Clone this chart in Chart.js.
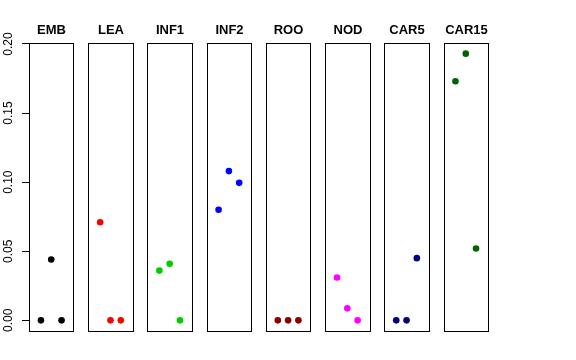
<!DOCTYPE html>
<html>
<head>
<meta charset="utf-8">
<script src="https://cdn.jsdelivr.net/npm/chart.js@4.4.0/dist/chart.umd.min.js"></script>
<style>
  body { margin: 0; background: #fff; }
  canvas { display: block; }
</style>
</head>
<body>
<canvas id="panels_chart" width="576" height="360"></canvas>
<script>
// panels, colours and the three values in each panel (x = 1, 2, 3)
const panelNames = ['EMB', 'LEA', 'INF1', 'INF2', 'ROO', 'NOD', 'CAR5', 'CAR15'];
const panelColors = ['#000000', '#FF0000', '#00CD00', '#0000FF', '#8B0000', '#FF00FF', '#000080', '#006400'];
const embValues = [0, 0.044, 0];
const leaValues = [0.071, 0, 0];
const inf1Values = [0.036, 0.041, 0];
const inf2Values = [0.080, 0.108, 0.0995];
const rooValues = [0, 0, 0];
const nodValues = [0.031, 0.0087, 0];
const car5Values = [0, 0, 0.045];
const car15Values = [0.173, 0.193, 0.052];
const yTicks = [0, 0.05, 0.10, 0.15, 0.20];

const panelValues = [embValues, leaValues, inf1Values, inf2Values, rooValues, nodValues, car5Values, car15Values];

// each panel is x in [0, 4] stretched by 4% like R, panels placed side by side
const step = 5.75;
const pad = 0.16;

document.addEventListener('DOMContentLoaded', function () {
    const ctx = document.getElementById('panels_chart').getContext('2d');

    const datasets = panelValues.map(function (vals, i) {
        return {
            label: panelNames[i],
            data: vals.map((v, j) => ({ x: i * step + j + 1, y: v })),
            backgroundColor: panelColors[i],
            borderWidth: 0,
            pointRadius: 3.3,
            pointHoverRadius: 3.3
        };
    });

    const panelBoxes = {
        id: 'panelBoxes',
        afterDatasetsDraw(chart) {
            const c = chart.ctx;
            const xs = chart.scales.x;
            const ys = chart.scales.y;
            c.save();
            c.strokeStyle = '#000';
            c.lineWidth = 1;
            c.fillStyle = '#000';
            c.font = 'bold 13px "Liberation Sans", Arial, sans-serif';
            c.textAlign = 'center';
            c.textBaseline = 'alphabetic';
            panelNames.forEach(function (name, i) {
                const l = Math.round(xs.getPixelForValue(i * step - pad)) + 0.5;
                const r = Math.round(xs.getPixelForValue(i * step + 4 + pad)) + 0.5;
                const t = Math.round(ys.top) + 0.5;
                const b = Math.round(ys.bottom) + 0.5;
                c.strokeRect(l, t, r - l, b - t);
                c.fillText(name, (l + r) / 2, 34);
            });
            c.restore();
        }
    };

    new Chart(ctx, {
        type: 'scatter',
        data: { datasets: datasets },
        options: {
            responsive: false,
            animation: false,
            layout: { padding: { left: 0, right: 88, top: 43, bottom: 29 } },
            plugins: {
                legend: { display: false },
                tooltip: { enabled: false }
            },
            scales: {
                x: {
                    type: 'linear',
                    display: false,
                    min: -pad,
                    max: 7 * step + 4 + pad
                },
                y: {
                    type: 'linear',
                    min: -0.0077,
                    max: 0.2007,
                    afterBuildTicks: function (scale) {
                        scale.ticks = yTicks.map(v => ({ value: v }));
                    },
                    afterFit: function (scale) {
                        scale.width = 29;
                    },
                    border: { display: false },
                    grid: {
                        drawOnChartArea: false,
                        drawTicks: true,
                        tickLength: 7,
                        color: '#000'
                    },
                    ticks: {
                        minRotation: 90,
                        maxRotation: 90,
                        crossAlign: 'center',
                        padding: 2,
                        color: '#000',
                        font: { family: '"Liberation Sans", Arial, sans-serif', size: 12 },
                        callback: function (value) {
                            return value.toFixed(2);
                        }
                    }
                }
            }
        },
        plugins: [panelBoxes]
    });
});
</script>
</body>
</html>
